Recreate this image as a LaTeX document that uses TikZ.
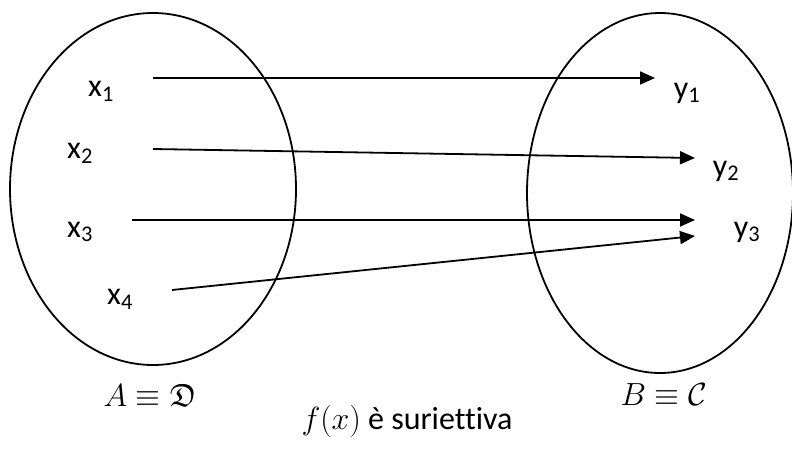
\RequirePackage{fix-cm}
\documentclass[tikz,border=0pt]{standalone}
\usepackage{amsmath,amssymb}
\usepackage{fontspec}
\setmainfont{Carlito}[Ligatures=CommonOff]
\usetikzlibrary{arrows.meta, shapes.geometric}
\DeclareFontFamily{U}{euf}{}
\DeclareFontShape{U}{euf}{m}{n}{<-> eufm10}{}

\begin{document}
\begin{tikzpicture}[x=1pt, y=-1pt, >={Triangle[length=15pt, width=13pt]},
  set/.style={ellipse, draw, line width=1.8pt, inner sep=0pt},
  elem/.style={font=\fontsize{32}{38}\selectfont, inner sep=1pt},
  map/.style={->, line width=1.8pt}]
  \useasboundingbox (0,0) rectangle (792,452);
  % the two sets
  \node[set, minimum width=286pt, minimum height=352pt] (A) at (153,189) {};
  \node[set, minimum width=266pt, minimum height=360pt] (B) at (660,193) {};
  \node[elem] (Alab) at (150,395) {$A\equiv\mathfrak{D}$};
  \node[elem] (Blab) at (664,395) {$B\equiv\mathcal{C}$};
  % elements
  \node[elem] (x1) at (101,91) {x\textsubscript{1}};
  \node[elem] (x2) at (80,153) {x\textsubscript{2}};
  \node[elem] (x3) at (80,232) {x\textsubscript{3}};
  \node[elem] (x4) at (120,299) {x\textsubscript{4}};
  \node[elem] (y1) at (687,93) {y\textsubscript{1}};
  \node[elem] (y2) at (726,171) {y\textsubscript{2}};
  \node[elem] (y3) at (747,232) {y\textsubscript{3}};
  % arrow ends
  \coordinate (s1) at (153,78);
  \coordinate (s2) at (153,149);
  \coordinate (s3) at (132,220);
  \coordinate (s4) at (172,290);
  \coordinate (e1) at (655,78);
  \coordinate (e2) at (695,158);
  \coordinate (e3) at (695,220);
  \coordinate (e4) at (695,236);
  \draw[map] (s1) -- (e1);
  \draw[map] (s2) -- (e2);
  \draw[map] (s3) -- (e3);
  \draw[map] (s4) -- (e4);
  \node[elem] (title) at (407,421) {$f(x)$ è suriettiva};
\end{tikzpicture}
\end{document}
